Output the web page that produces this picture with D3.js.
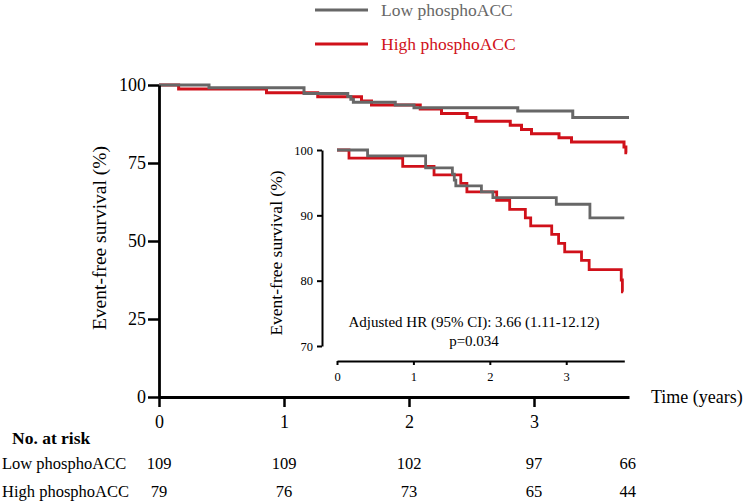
<!DOCTYPE html>
<html>
<head>
<meta charset="utf-8">
<script src="https://cdn.jsdelivr.net/npm/d3@7/dist/d3.min.js"></script>
<style>
  html, body { margin: 0; padding: 0; background: #fff; }
  svg { display: block; font-family: "Liberation Serif", "Times New Roman", serif; }
</style>
</head>
<body>
<svg id="chart" width="747" height="504"></svg>
<script>
// ---------- data ----------
const seriesNames = ["Low phosphoACC", "High phosphoACC"];
const lowTimes = [0, 0.40, 1.16, 1.51, 1.535, 1.555, 1.89, 2.04, 2.87, 3.31, 3.76];
const lowSurv  = [100, 99.1, 97.25, 96.3, 95.4, 94.5, 93.6, 92.7, 91.7, 89.6, 89.6];
const highTimes = [0, 0.157, 0.86, 1.27, 1.62, 1.70, 2.09, 2.26, 2.465, 2.535, 2.81, 2.90, 2.98, 3.20, 3.30, 3.72, 3.735, 3.745];
const highSurv  = [100, 98.75, 97.5, 96.2, 94.9, 93.6, 92.3, 90.9, 89.6, 88.4, 87.1, 85.7, 84.4, 83.1, 81.7, 80.1, 78.3, 78.3];
const mainYTicks = [0, 25, 50, 75, 100];
const mainXTicks = [0, 1, 2, 3];
const insetYTicks = [70, 80, 90, 100];
const insetXTicks = [0, 1, 2, 3];
const riskTimes = [0, 1, 2, 3, 3.75];
const riskLow  = [109, 109, 102, 97, 66];
const riskHigh = [79, 76, 73, 65, 44];
const hrText = "Adjusted HR (95% CI): 3.66 (1.11-12.12)";
const pText = "p=0.034";

const colors = { low: "#676767", high: "#d0111a" };
const fmt = d3.format("d");

const svg = d3.select("#chart");
svg.append("rect").attr("width", 747).attr("height", 504).attr("fill", "#fff");

const low = lowTimes.map((t, i) => ({ t, s: lowSurv[i] }));
const high = highTimes.map((t, i) => ({ t, s: highSurv[i] }));

// ---------- main plot ----------
const x = d3.scaleLinear().domain([0, 3.76]).range([159, 629]);
const y = d3.scaleLinear().domain([0, 100]).range([397, 85]);

const line = d3.line().x(d => x(d.t)).y(d => y(d.s)).curve(d3.curveStepAfter);

svg.append("path").datum(high).attr("d", line)
  .attr("fill", "none").attr("stroke", colors.high).attr("stroke-width", 3);
svg.append("path").datum(low).attr("d", line)
  .attr("fill", "none").attr("stroke", colors.low).attr("stroke-width", 3);

const yAx = svg.append("g").attr("transform", "translate(159,0)")
  .call(d3.axisLeft(y).tickValues(mainYTicks).tickFormat(fmt).tickSize(11).tickSizeOuter(0).tickPadding(2));
const xAx = svg.append("g").attr("transform", "translate(0,397)")
  .call(d3.axisBottom(x).tickValues(mainXTicks).tickFormat(fmt).tickSize(10).tickSizeOuter(0).tickPadding(8));
[yAx, xAx].forEach(g => {
  g.select(".domain").attr("stroke", "#000").attr("stroke-width", 2.8);
  g.selectAll(".tick line").attr("stroke", "#000").attr("stroke-width", 2.5);
  g.selectAll(".tick text").attr("font-family", "Liberation Serif").attr("font-size", 18).attr("fill", "#000");
});

svg.append("text").attr("transform", "translate(106,238) rotate(-90)")
  .attr("text-anchor", "middle").attr("font-size", 19.5).attr("fill", "#000")
  .text("Event-free survival (%)");
svg.append("text").attr("x", 651).attr("y", 397).attr("dy", "0.35em")
  .attr("font-size", 18).attr("fill", "#000").text("Time (years)");

// ---------- legend ----------
const legend = [{ name: seriesNames[0], c: colors.low, y: 10 }, { name: seriesNames[1], c: colors.high, y: 44 }];
legend.forEach(l => {
  svg.append("line").attr("x1", 315).attr("x2", 368).attr("y1", l.y).attr("y2", l.y)
    .attr("stroke", l.c).attr("stroke-width", 3);
  svg.append("text").attr("x", 381).attr("y", l.y).attr("dy", "0.35em")
    .attr("font-size", 17.5).attr("fill", l.c).text(l.name);
});

// ---------- inset ----------
const xi = d3.scaleLinear().domain([0, 3.76]).range([337, 624.3]);
const yi = d3.scaleLinear().domain([70, 100]).range([346, 150]);
const lineI = d3.line().x(d => xi(d.t)).y(d => yi(d.s)).curve(d3.curveStepAfter);

svg.append("path").datum(high).attr("d", lineI)
  .attr("fill", "none").attr("stroke", colors.high).attr("stroke-width", 2.8);
svg.append("path").datum(low).attr("d", lineI)
  .attr("fill", "none").attr("stroke", colors.low).attr("stroke-width", 2.8);

const yiAx = svg.append("g").attr("transform", "translate(322,0)")
  .call(d3.axisLeft(yi).tickValues(insetYTicks).tickFormat(fmt).tickSize(5).tickSizeOuter(0).tickPadding(4));
const xiAx = svg.append("g").attr("transform", "translate(0,361)")
  .call(d3.axisBottom(xi).tickValues(insetXTicks).tickFormat(fmt).tickSize(4).tickSizeOuter(0).tickPadding(7));
[yiAx, xiAx].forEach(g => {
  g.select(".domain").attr("stroke", "#000").attr("stroke-width", 2);
  g.selectAll(".tick line").attr("stroke", "#000").attr("stroke-width", 2);
  g.selectAll(".tick text").attr("font-family", "Liberation Serif").attr("font-size", 12.5).attr("fill", "#000");
});

svg.append("text").attr("transform", "translate(282,253) rotate(-90)")
  .attr("text-anchor", "middle").attr("font-size", 17.5).attr("fill", "#000")
  .text("Event-free survival (%)");
svg.append("text").attr("x", 474).attr("y", 322).attr("dy", "0.35em").attr("text-anchor", "middle")
  .attr("font-size", 15).attr("fill", "#000").text(hrText);
svg.append("text").attr("x", 474).attr("y", 341).attr("dy", "0.35em").attr("text-anchor", "middle")
  .attr("font-size", 15).attr("fill", "#000").text(pText);

// ---------- risk table ----------
svg.append("text").attr("x", 12).attr("y", 438).attr("dy", "0.35em")
  .attr("font-size", 17.5).attr("font-weight", "bold").attr("fill", "#000").text("No. at risk");
const rows = [{ name: seriesNames[0], vals: riskLow, y: 463 }, { name: seriesNames[1], vals: riskHigh, y: 491 }];
rows.forEach(r => {
  svg.append("text").attr("x", 2).attr("y", r.y).attr("dy", "0.35em")
    .attr("font-size", 16.5).attr("fill", "#000").text(r.name);
  svg.selectAll(null).data(r.vals).enter().append("text")
    .attr("x", (d, i) => x(riskTimes[i])).attr("y", r.y).attr("dy", "0.35em")
    .attr("text-anchor", "middle").attr("font-size", 16.5).attr("fill", "#000").text(d => d);
});
</script>
</body>
</html>
